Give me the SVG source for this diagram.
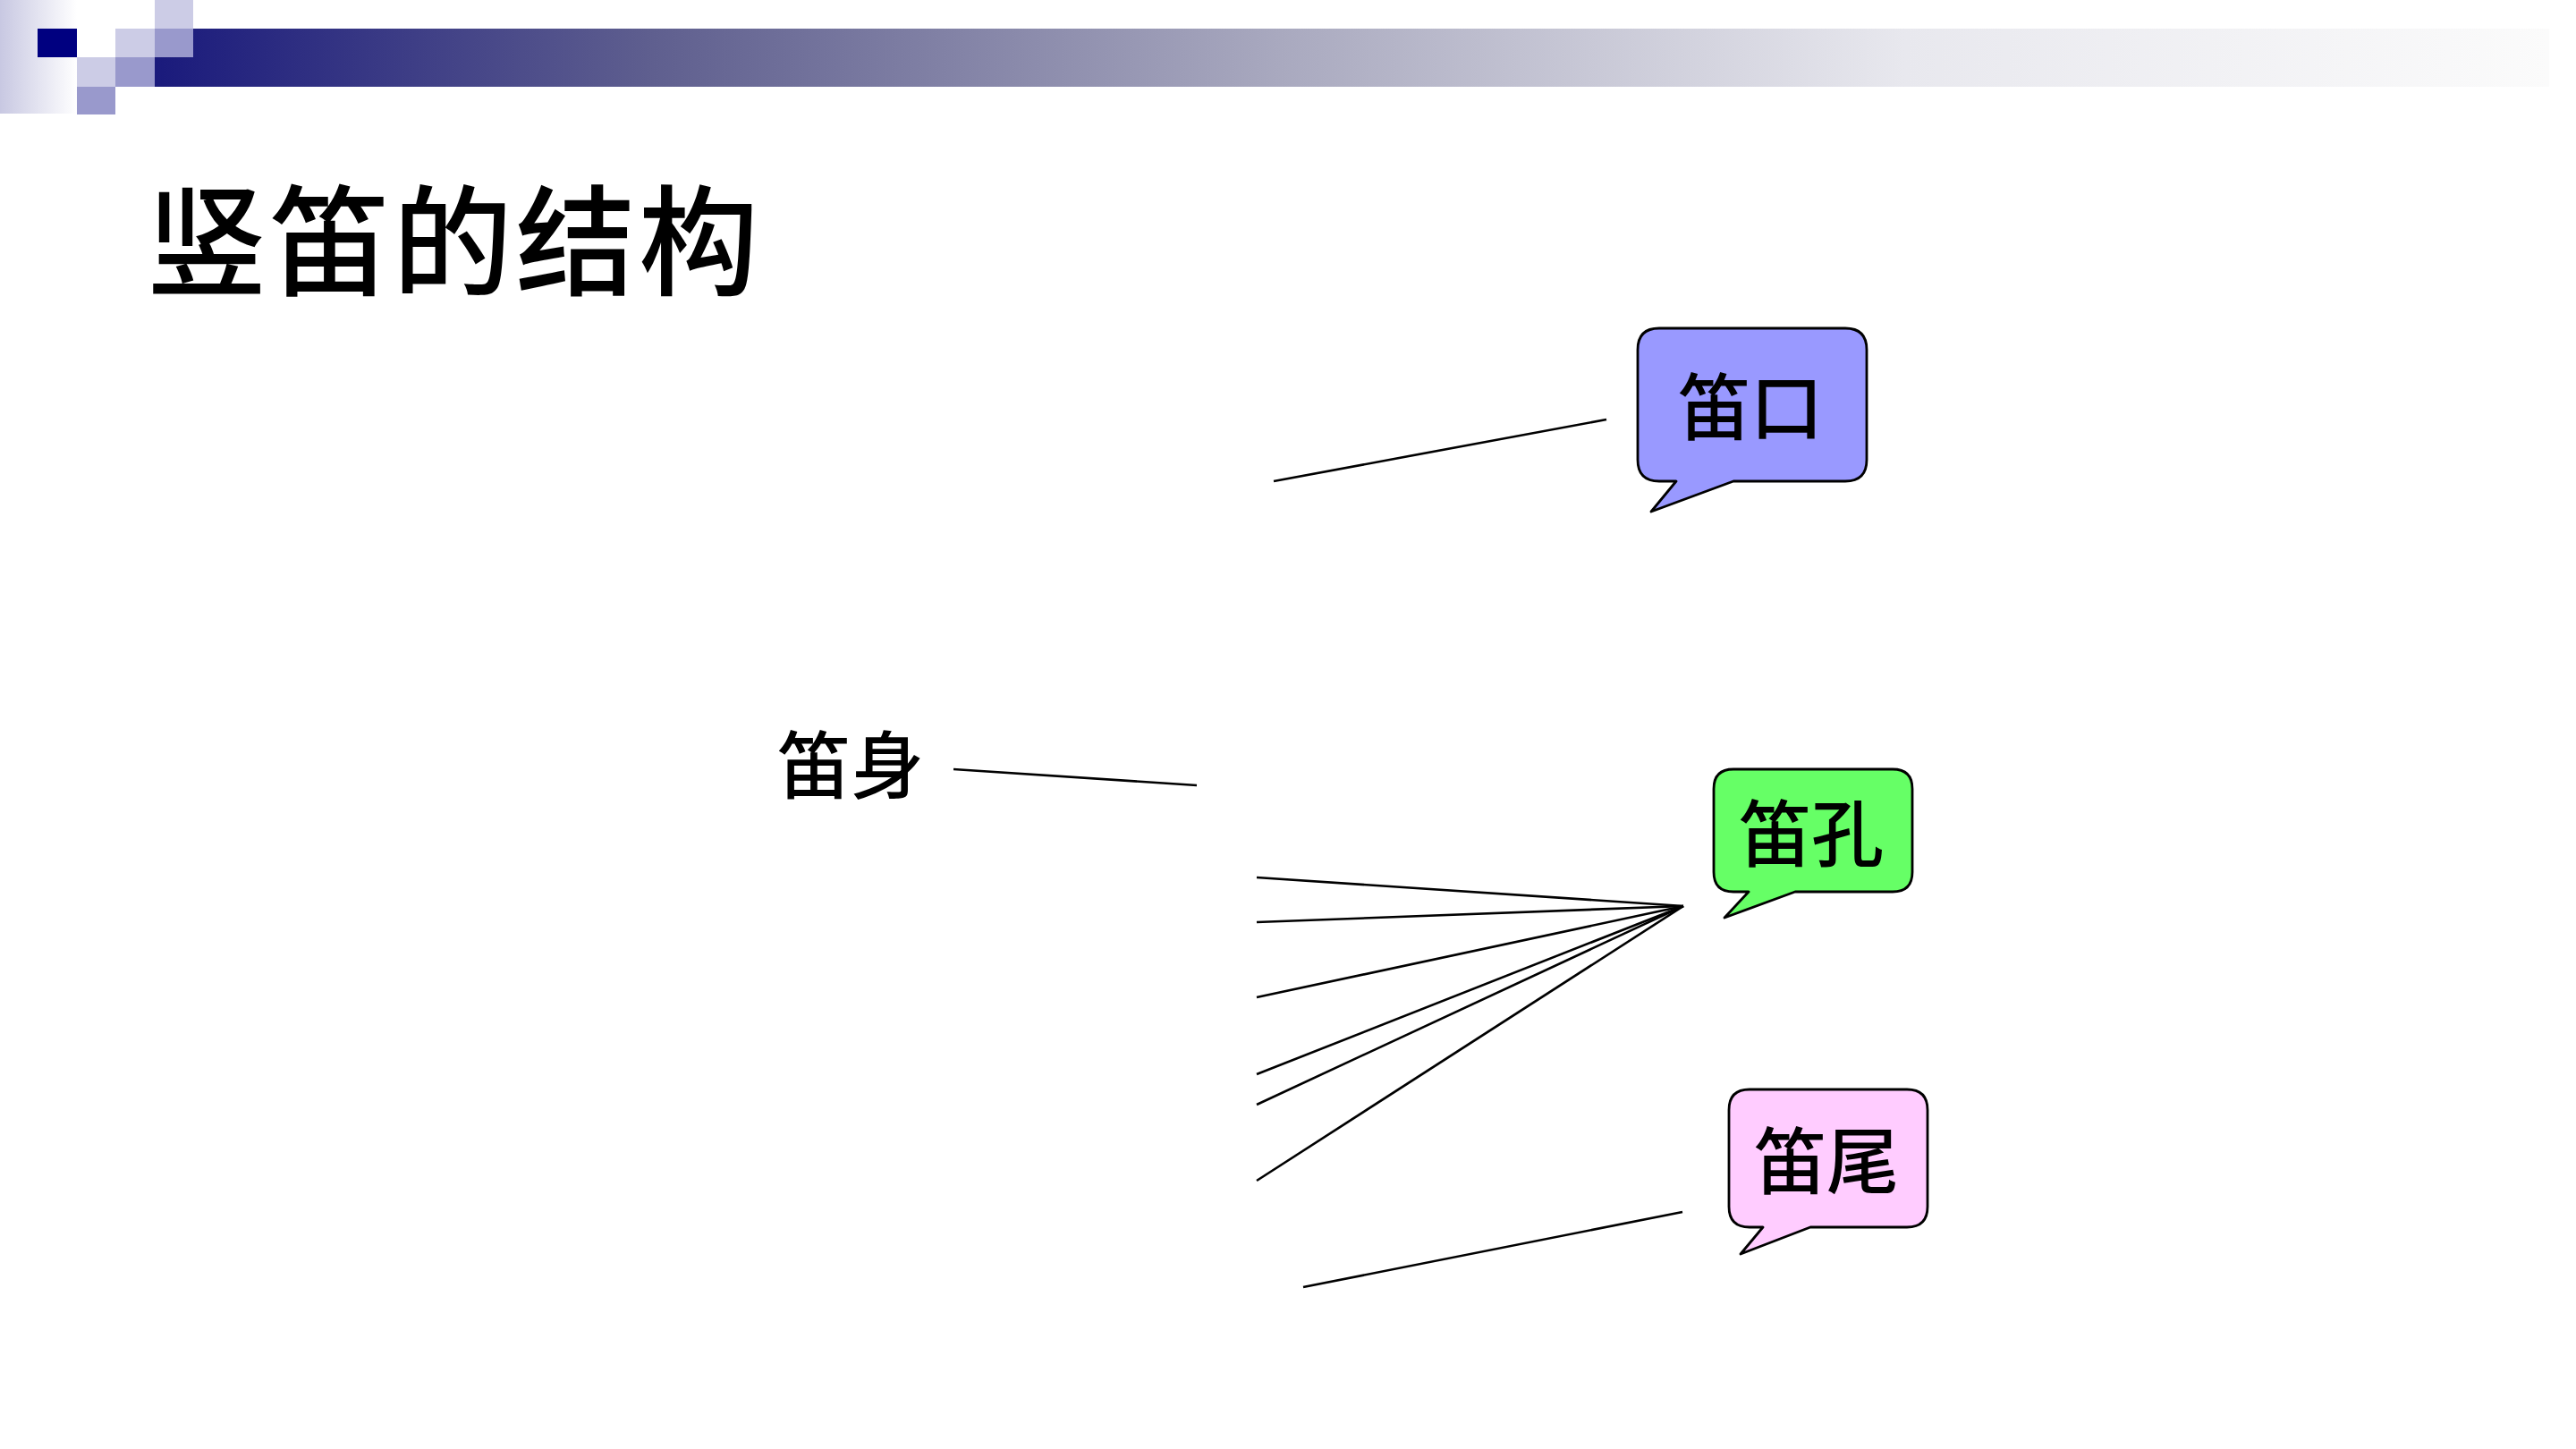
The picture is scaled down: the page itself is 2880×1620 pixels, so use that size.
<svg xmlns="http://www.w3.org/2000/svg" width="2880" height="1620" viewBox="0 0 2880 1620">
<defs>
<linearGradient id="bar" gradientUnits="userSpaceOnUse" x1="173" y1="0" x2="2850" y2="0">
<stop offset="0" stop-color="#1a1a7c"/>
<stop offset="0.208" stop-color="#5f5f8f"/>
<stop offset="0.47" stop-color="#a9a9bf"/>
<stop offset="0.731" stop-color="#e8e8ee"/>
<stop offset="1" stop-color="#fbfbfb"/>
</linearGradient>
<linearGradient id="strip" x1="0" y1="0" x2="1" y2="0">
<stop offset="0" stop-color="#c8c8e2"/>
<stop offset="1" stop-color="#ffffff"/>
</linearGradient>
</defs>
<style>
.t{font-family:"Noto Sans CJK SC","Liberation Sans",sans-serif;fill:#000;font-weight:500}
.bubble{stroke:#000;stroke-width:2.8;stroke-linejoin:round}
.ln{stroke:#000;stroke-width:2.6;fill:none}
</style>
<rect width="2880" height="1620" fill="#fff"/>
<g id="header">
<rect x="0" y="0" width="86" height="127" fill="url(#strip)"/>
<rect x="173" y="32" width="2677" height="65" fill="url(#bar)"/>
<rect x="42" y="32" width="44" height="32" fill="#000080"/>
<rect x="86" y="64" width="43" height="33" fill="#ccccE6"/>
<rect x="86" y="97" width="43" height="31" fill="#9999CC"/>
<rect x="129" y="32" width="44" height="32" fill="#ccccE6"/>
<rect x="129" y="64" width="44" height="33" fill="#9999CC"/>
<rect x="173" y="0" width="43" height="32" fill="#ccccE6"/>
<rect x="173" y="32" width="43" height="32" fill="#9999CC"/>
</g>
<g id="title"><text class="t" x="164" y="320" font-size="134" letter-spacing="3.5">竖笛的结构</text></g>
<g id="connectors">
<line class="ln" x1="1066" y1="860" x2="1338" y2="878"/>
<line class="ln" x1="1424" y1="538" x2="1796" y2="469"/>
<line class="ln" x1="1405" y1="981" x2="1882" y2="1013"/>
<line class="ln" x1="1405" y1="1031" x2="1882" y2="1013"/>
<line class="ln" x1="1405" y1="1115" x2="1882" y2="1013"/>
<line class="ln" x1="1405" y1="1201" x2="1882" y2="1013"/>
<line class="ln" x1="1405" y1="1235" x2="1882" y2="1013"/>
<line class="ln" x1="1405" y1="1320" x2="1882" y2="1013"/>
<line class="ln" x1="1457" y1="1439" x2="1881" y2="1355"/>
</g>
<g id="node-dishen"><text class="t" x="869" y="886" font-size="82">笛身</text></g>
<g id="node-dikou">
<path class="bubble" fill="#9999FF" d="M1855,367 H2063 Q2087,367 2087,391 V514 Q2087,538 2063,538 H1938 L1846,572 L1874,538 H1855 Q1831,538 1831,514 V391 Q1831,367 1855,367 Z"/>
<text class="t" x="1876" y="485" font-size="81">笛口</text>
</g>
<g id="node-dikong">
<path class="bubble" fill="#66FF66" d="M1938,860 H2116 Q2138,860 2138,882 V975 Q2138,997 2116,997 H2007 L1928,1026 L1955,997 H1938 Q1916,997 1916,975 V882 Q1916,860 1938,860 Z"/>
<text class="t" x="1944" y="962" font-size="81">笛孔</text>
</g>
<g id="node-diwei">
<path class="bubble" fill="#FFCCFF" d="M1956,1218 H2132 Q2155,1218 2155,1241 V1349 Q2155,1372 2132,1372 H2024 L1946,1402 L1971,1372 H1956 Q1933,1372 1933,1349 V1241 Q1933,1218 1956,1218 Z"/>
<text class="t" x="1961" y="1328" font-size="81">笛尾</text>
</g>
</svg>
